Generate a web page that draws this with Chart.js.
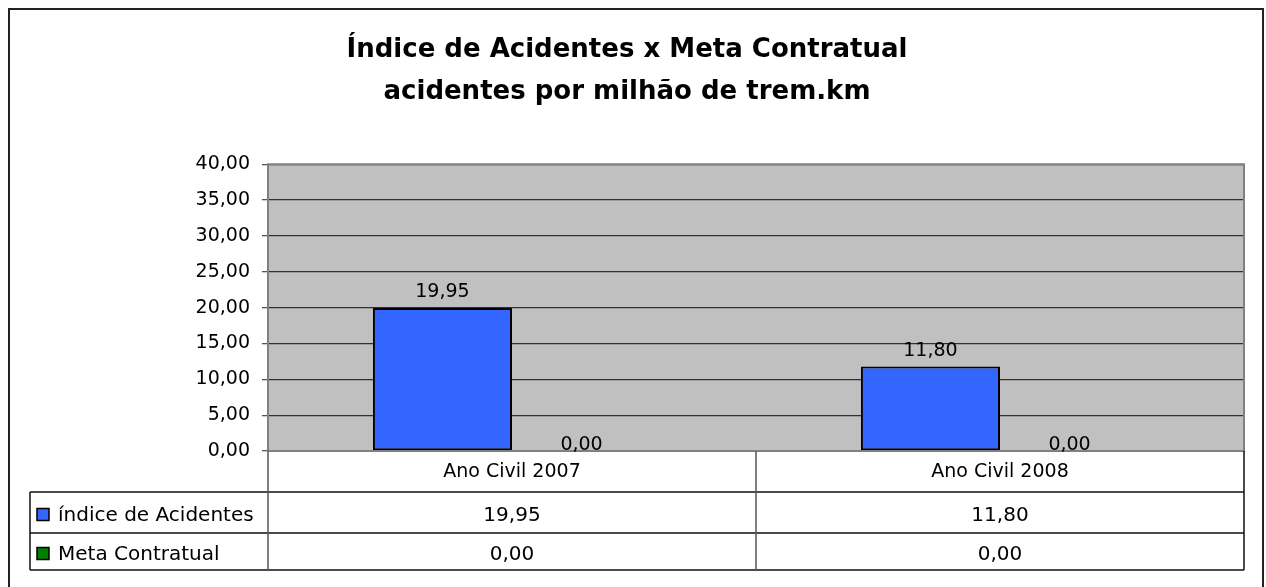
<!DOCTYPE html>
<html>
<head>
<meta charset="utf-8">
<script src="https://cdn.jsdelivr.net/npm/chart.js@4/dist/chart.umd.min.js"></script>
<style>
  html, body { margin: 0; padding: 0; background: #fff; }
  canvas { display: block; }
</style>
</head>
<body>
<canvas id="acidChart" width="1266" height="587"></canvas>
<script>
const categories = ['Ano Civil 2007', 'Ano Civil 2008'];
const indiceAcidentes = [19.95, 11.80];
const metaContratual = [0.00, 0.00];
const seriesNames = ['índice de Acidentes', 'Meta Contratual'];
const seriesColors = ['#3366FF', '#008000'];
const yMin = 0, yMax = 40, yStep = 5;

const FONT = 'DejaVu Sans';
const fmt = v => v.toFixed(2).replace('.', ',');

// plot background + border
const plotBg = {
    id: 'plotBg',
    beforeDraw(chart) {
        const { ctx, chartArea: a } = chart;
        ctx.save();
        // outer frame
        ctx.strokeStyle = '#222';
        ctx.lineWidth = 2;
        ctx.strokeRect(9, 9, 1254, 620);
        ctx.fillStyle = '#C0C0C0';
        ctx.fillRect(a.left, a.top, a.right - a.left, a.bottom - a.top);
        ctx.restore();
    },
    afterDatasetsDraw(chart) {
        const { ctx, chartArea: a } = chart;
        ctx.save();
        ctx.strokeStyle = '#808080';
        ctx.lineWidth = 2;
        ctx.strokeRect(a.left, a.top, a.right - a.left, a.bottom - a.top);
        ctx.restore();
    }
};

// value labels over bars
const barLabels = {
    id: 'barLabels',
    afterDatasetsDraw(chart) {
        const { ctx } = chart;
        ctx.save();
        ctx.font = '19px "' + FONT + '"';
        ctx.fillStyle = '#000';
        ctx.textAlign = 'center';
        ctx.textBaseline = 'bottom';
        chart.data.datasets.forEach((ds, di) => {
            chart.getDatasetMeta(di).data.forEach((el, i) => {
                const v = ds.data[i];
                ctx.fillText(fmt(v), el.x, el.y - (v > 0 ? 10 : 0) + 4);
            });
        });
        ctx.restore();
    }
};

// data table below the plot (header row = x axis labels)
const dataTable = {
    id: 'dataTable',
    afterDraw(chart) {
        const { ctx, chartArea: a, scales: { x } } = chart;
        const headerH = 41;
        const rowH = [41, 37];
        const legendLeft = 30;
        const top = a.bottom;
        const rowTops = [top + headerH, top + headerH + rowH[0]];
        const bottom = rowTops[1] + rowH[1];

        const bounds = [a.left];
        for (let i = 0; i < categories.length - 1; i++) {
            bounds.push((x.getPixelForValue(i) + x.getPixelForValue(i + 1)) / 2);
        }
        bounds.push(a.right);

        ctx.save();
        ctx.lineWidth = 1.5;
        ctx.strokeStyle = '#111';
        ctx.beginPath();
        rowTops.concat([bottom]).forEach(y => {
            ctx.moveTo(legendLeft, y);
            ctx.lineTo(a.right, y);
        });
        ctx.moveTo(legendLeft, rowTops[0]);
        ctx.lineTo(legendLeft, bottom);
        ctx.moveTo(a.right, top);
        ctx.lineTo(a.right, bottom);
        ctx.stroke();

        ctx.strokeStyle = '#555';
        ctx.beginPath();
        bounds.slice(0, -1).forEach(bx => {
            ctx.moveTo(bx, top);
            ctx.lineTo(bx, bottom);
        });
        ctx.stroke();

        ctx.font = '20px "' + FONT + '"';
        ctx.textBaseline = 'middle';
        chart.data.datasets.forEach((ds, di) => {
            const cy = rowTops[di] + rowH[di] / 2 + 2;
            ctx.fillStyle = seriesColors[di];
            ctx.fillRect(37, cy - 6, 12, 12);
            ctx.strokeStyle = '#000';
            ctx.lineWidth = 1.5;
            ctx.strokeRect(37, cy - 6, 12, 12);
            ctx.fillStyle = '#000';
            ctx.textAlign = 'left';
            ctx.fillText(seriesNames[di], 58, cy + 1);
            ctx.textAlign = 'center';
            ds.data.forEach((v, i) => {
                ctx.fillText(fmt(v), x.getPixelForValue(i), cy + 1);
            });
        });
        ctx.restore();
    }
};

const ctx = document.getElementById('acidChart').getContext('2d');
new Chart(ctx, {
    type: 'bar',
    data: {
        labels: categories,
        datasets: [
            {
                label: seriesNames[0],
                data: indiceAcidentes,
                backgroundColor: seriesColors[0],
                borderColor: '#000',
                borderWidth: 2,
                borderSkipped: false,
                categoryPercentage: 0.57,
                barPercentage: 1.0
            },
            {
                label: seriesNames[1],
                data: metaContratual,
                backgroundColor: seriesColors[1],
                borderColor: '#000',
                borderWidth: 0,
                categoryPercentage: 0.57,
                barPercentage: 1.0
            }
        ]
    },
    options: {
        responsive: false,
        animation: false,
        layout: { padding: { left: 10, right: 22, top: 10, bottom: 0 } },
        scales: {
            x: {
                grid: { display: false },
                border: { display: false },
                ticks: {
                    color: '#000',
                    font: { family: FONT, size: 19 },
                    padding: 2,
                    maxRotation: 0
                },
                afterFit(scale) { scale.height = 136; }
            },
            y: {
                min: yMin,
                max: yMax,
                border: { display: false },
                grid: {
                    color: '#303030',
                    lineWidth: 1.3,
                    tickLength: 6,
                    tickColor: '#555'
                },
                ticks: {
                    stepSize: yStep,
                    color: '#000',
                    font: { family: FONT, size: 19 },
                    padding: 12,
                    callback: v => fmt(v)
                },
                afterFit(scale) { scale.width = 258; }
            }
        },
        plugins: {
            legend: { display: false },
            tooltip: { enabled: false },
            title: {
                display: true,
                text: ['Índice de Acidentes x Meta Contratual', 'acidentes por milhão de trem.km'],
                color: '#000',
                font: { family: FONT, size: 26, weight: 'bold', lineHeight: 1.62 },
                padding: { top: 19, bottom: 51 }
            }
        }
    },
    plugins: [plotBg, barLabels, dataTable]
});
</script>
</body>
</html>
